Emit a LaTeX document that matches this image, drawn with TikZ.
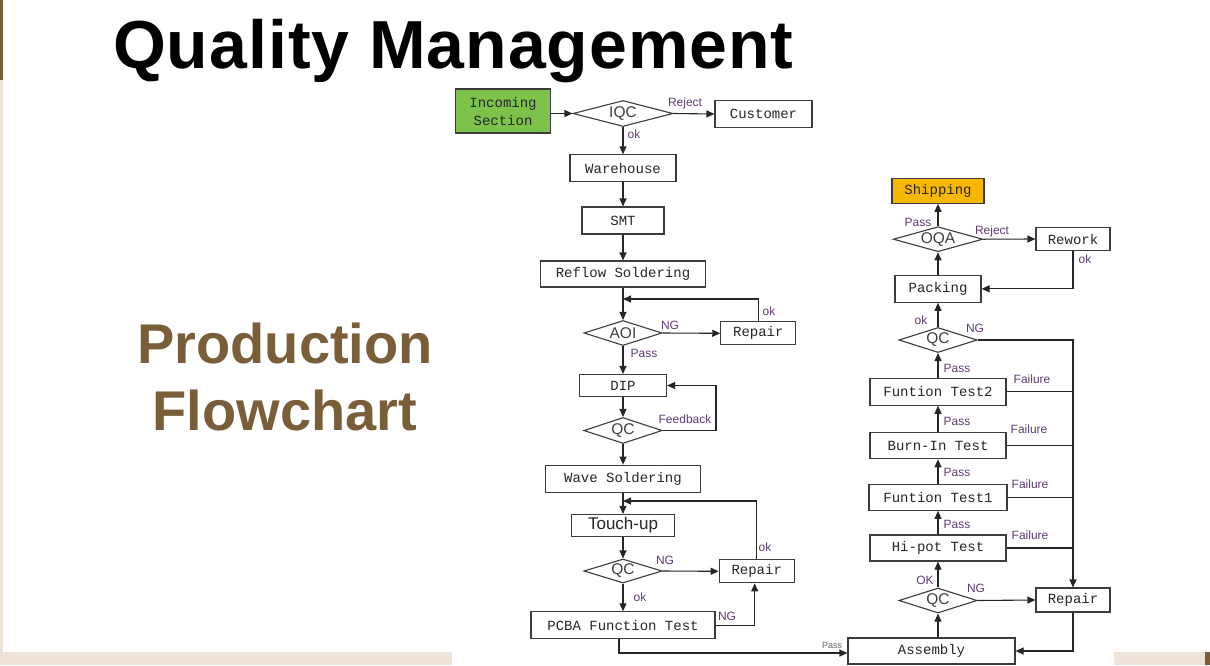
\documentclass[tikz,border=0pt]{standalone}
\usepackage{fontspec}
\setmainfont{Liberation Sans}
\newfontfamily\monof{Liberation Mono}
\newfontfamily\titlef[LetterSpace=1.4]{Liberation Sans}
\usetikzlibrary{shapes.geometric,arrows.meta}
\definecolor{labc}{RGB}{95,60,115}
\definecolor{brownt}{RGB}{122,94,58}
\definecolor{beige}{RGB}{237,227,217}
\definecolor{greenf}{RGB}{125,195,75}
\definecolor{orangef}{RGB}{248,183,0}
\definecolor{edgec}{RGB}{60,60,60}
\begin{document}
\begin{tikzpicture}[x=1pt,y=-1pt,
 sz/.style 2 args={minimum width=#1pt,minimum height=#2pt},
 box/.style={draw=edgec, line width=1.1pt, fill=white, inner sep=0pt, font=\monof\fontsize{14}{18}\selectfont, text=black!85},
 dia/.style={diamond, draw=edgec, line width=1.1pt, fill=white, inner sep=0pt, aspect=4, font=\fontsize{15.5}{17}\selectfont, text=black!75},
 lab/.style={font=\fontsize{12}{14}\selectfont, text=labc, inner sep=0pt},
 arr/.style={draw=black!85, line width=1.1pt, -{Triangle[length=8pt,width=7pt]}},
 ln/.style={draw=black!85, line width=1.1pt},
]
\useasboundingbox (0,0) rectangle (1210,665);
% background
\fill[white] (0,0) rectangle (1210,665);
\fill[brownt] (0,0) rectangle (2.5,80);
\fill[beige] (0,80) rectangle (2.5,665);
\fill[beige] (0,652) rectangle (452,665);
\fill[beige] (1114,652) rectangle (1205,665);
\fill[brownt] (1205,652) rectangle (1210,665);

% titles
\node[font=\titlef\bfseries\fontsize{68}{70}\selectfont, text=black, anchor=base west, inner sep=0pt] (title) at (113,68) {Quality Management};
\node[font=\bfseries\fontsize{56}{60}\selectfont, text=brownt, anchor=base, inner sep=0pt] (p1) at (285,363) {Production};
\node[font=\bfseries\fontsize{56}{60}\selectfont, text=brownt, anchor=base, inner sep=0pt] (p2) at (285,430) {Flowchart};

% left column
\node[box, sz={95}{44}, fill=greenf, align=center] (inc) at (503,111) {Incoming\\Section};
\node[dia, sz={100}{26}] (iqc) at (623,113.5) {IQC};
\node[box, sz={97}{27}] (cust) at (763.5,114) {Customer};
\node[box, sz={106}{27}] (wh) at (623,168.3) {Warehouse};
\node[box, sz={82}{27}] (smt) at (623,220.5) {SMT};
\node[box, sz={165}{26}] (reflow) at (623,274) {Reflow Soldering};
\node[dia, sz={78}{25}] (aoi) at (623,333) {AOI};
\node[box, sz={75}{23}] (rep1) at (758.3,333.3) {Repair};
\node[box, sz={87}{22}] (dip) at (623,385.5) {DIP};
\node[dia, sz={78}{26}] (qc1) at (623,430.5) {QC};
\node[box, sz={155}{27}] (wave) at (623,478.7) {Wave Soldering};
\node[box, sz={103}{22}, font=\fontsize{17}{19}\selectfont] (touch) at (623,525.5) {Touch-up};
\node[dia, sz={78}{24}] (qc2) at (623,571) {QC};
\node[box, sz={75}{23}] (rep2) at (756.7,571.3) {Repair};
\node[box, sz={184}{27}] (pcba) at (623,625.3) {PCBA Function Test};

% right column
\node[box, sz={167}{26}] (asm) at (931.5,651) {Assembly};
\node[dia, sz={78}{25}] (qc3) at (938,600.5) {QC};
\node[box, sz={74}{24}] (rep3) at (1073,600) {Repair};
\node[box, sz={136}{26}] (hipot) at (938,548) {Hi-pot Test};
\node[box, sz={138}{26}] (ft1) at (938,497.3) {Funtion Test1};
\node[box, sz={136}{26}] (burn) at (938,445.8) {Burn-In Test};
\node[box, sz={136}{27}] (ft2) at (938,391.7) {Funtion Test2};
\node[dia, sz={77}{25}] (qc4) at (938,340) {QC};
\node[box, sz={86}{27}] (pack) at (938,288.8) {Packing};
\node[dia, sz={77}{25}] (oqa) at (938,239.2) {OQA};
\node[box, sz={92}{25}, fill=orangef] (ship) at (938,190.8) {Shipping};
\node[box, sz={74}{23}] (rework) at (1073,239) {Rework};

% helper coordinates
\coordinate (j1) at (623,299);
\coordinate (fb) at (716,430.5);
\coordinate (j2) at (623,501);

% left connectors
\draw[arr] (inc.east |- iqc.west) -- (iqc.west);
\draw[arr] (iqc.east) -- (cust.west);
\draw[arr] (iqc.south) -- (wh.north);
\draw[arr] (wh.south) -- (smt.north);
\draw[arr] (smt.south) -- (reflow.north);
\draw[arr] (reflow.south) -- (aoi.north);
\draw[arr] (rep1.north) |- (j1);
\draw[arr] (aoi.east) -- (rep1.west);
\draw[arr] (aoi.south) -- (dip.north);
\draw[arr] (dip.south) -- (qc1.north);
\draw[arr] (qc1.east) -- (fb) |- (dip.east);
\draw[arr] (qc1.south) -- (wave.north);
\draw[arr] (wave.south) -- (touch.north);
\draw[arr] (rep2.north) |- (j2);
\draw[arr] (touch.south) -- (qc2.north);
\draw[arr] (qc2.east) -- (rep2.west);
\draw[arr] (qc2.south) -- (pcba.north);
\draw[arr] (pcba.east) -| ([xshift=-2pt]rep2.south);
\draw[arr] ([xshift=-4pt]pcba.south) |- ([yshift=-2pt]asm.west);

% right connectors
\draw[arr] (qc3.south |- asm.north) -- (qc3.south);
\draw[arr] (qc3.east) -- (rep3.west);
\draw[arr] (rep3.south) |- (asm.east);
\draw[arr] (qc3.north) -- (hipot.south);
\draw[arr] (hipot.north) -- (ft1.south);
\draw[arr] (ft1.north) -- (burn.south);
\draw[arr] (burn.north) -- (ft2.south);
\draw[arr] (ft2.north) -- (qc4.south);
\draw[arr] (qc4.north) -- (pack.south);
\draw[arr] (pack.north) -- (oqa.south);
\draw[arr] (oqa.north) -- (ship.south);
\draw[arr] (oqa.east) -- (rework.west);
\draw[arr] (rework.south) |- (pack.east);
\draw[arr] (qc4.east) -| (rep3.north);
\draw[ln] (ft2.east) -- (ft2.east -| rep3.north);
\draw[ln] (burn.east) -- (burn.east -| rep3.north);
\draw[ln] (ft1.east) -- (ft1.east -| rep3.north);
\draw[ln] (hipot.east) -- (hipot.east -| rep3.north);

% labels
\node[lab] (l1) at (685,103) {Reject};
\node[lab] (l2) at (634,134) {ok};
\node[lab] (l3) at (769,311) {ok};
\node[lab] (l4) at (670,325) {NG};
\node[lab] (l5) at (644,353) {Pass};
\node[lab] (l6) at (685,419) {Feedback};
\node[lab] (l7) at (765,547) {ok};
\node[lab] (l8) at (665,560) {NG};
\node[lab] (l9) at (640,597) {ok};
\node[lab] (l10) at (727,616) {NG};
\node[lab, font=\fontsize{9}{10}\selectfont, text=black!60] (l11) at (832,645) {Pass};
\node[lab] (l12) at (925,580) {OK};
\node[lab] (l13) at (976,588) {NG};
\node[lab] (l14) at (957,524) {Pass};
\node[lab] (l15) at (957,472) {Pass};
\node[lab] (l16) at (957,421) {Pass};
\node[lab] (l17) at (957,368) {Pass};
\node[lab] (l18) at (1030,535) {Failure};
\node[lab] (l19) at (1030,484) {Failure};
\node[lab] (l20) at (1029,429) {Failure};
\node[lab] (l21) at (1032,379) {Failure};
\node[lab] (l22) at (921,320) {ok};
\node[lab] (l23) at (975,328) {NG};
\node[lab] (l24) at (918,222) {Pass};
\node[lab] (l25) at (992,231) {Reject};
\node[lab] (l26) at (1085,259) {ok};
\end{tikzpicture}
\end{document}
